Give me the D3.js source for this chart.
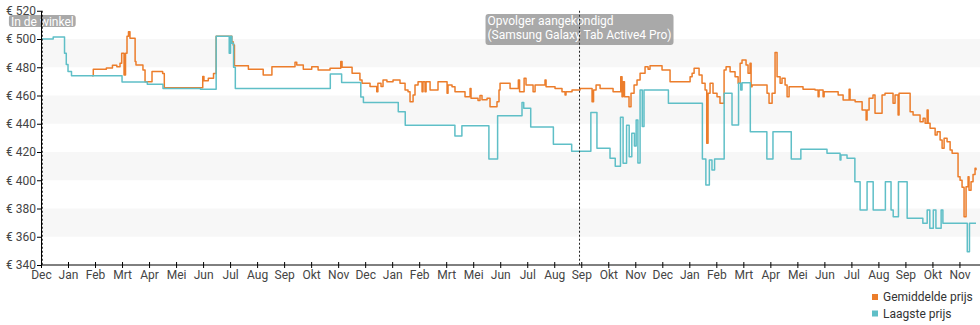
<!DOCTYPE html>
<html><head><meta charset="utf-8">
<script src="https://cdn.jsdelivr.net/npm/d3@7"></script>
<style>
html,body{margin:0;padding:0;background:#fff;}
svg{display:block;font-family:Roboto,"Noto Sans",sans-serif;}
</style></head>
<body><svg id="chart" width="980" height="325"></svg>
<script>
// ---- data ----
const monthLabels = ["Dec","Jan","Feb","Mrt","Apr","Mei","Jun","Jul","Aug","Sep","Okt","Nov",
  "Dec","Jan","Feb","Mrt","Mei","Jun","Jul","Aug","Sep","Okt","Nov",
  "Dec","Jan","Feb","Mrt","Apr","Mei","Jun","Jul","Aug","Sep","Okt","Nov"];
const tickStepDays = 31;
const dayDomain = [0, 1073];
const yTicks = [340,360,380,400,420,440,460,480,500,520];
const seriesNames = ["Gemiddelde prijs","Laagste prijs"];
const seriesColors = ["#ec7d2b","#5fbfc7"];
const markers = [
  {day: 1.5, lines: ["In de winkel"]},
  {day: 618, lines: ["Opvolger aangekondigd","(Samsung Galaxy Tab Active4 Pro)"]}
];
// [day, price]
const lowestPrice = [[0,500],[14,501.5],[27,490],[29,482],[31,477],[35,474],[93,469.5],[122,468],[140,465],[183,464.5],[201,502],[216,490],[217.5,502],[219,497],[221,480],[223,465],[332,475.3],[345,469.2],[367,459],[370,455],[410,448.5],[418,439],[475,431.3],[483,438.6],[514,415],[524,445.7],[552,455],[554,451],[562,437.7],[588,425.4],[609,420.5],[631,448],[638,422.6],[653,415.5],[659,410],[665,444.6],[668,412],[672,439],[675,416.7],[678,433.2],[681,424.2],[683,442.6],[685,412.2],[687.5,463.9],[690,438],[692,463.9],[720,454.5],[759,415],[763,396.6],[767,414.3],[770,407.3],[773,415],[784,461.6],[793,439.1],[800.5,468.6],[803,463.9],[804.5,469.1],[814,434.4],[833,415],[840,434.4],[861,415],[872,421.9],[902,419.1],[917,414.3],[918,417.9],[925,415.5],[934,399],[940,378.9],[948,399],[955,378.9],[969,399],[975.5,378.9],[978,374.2],[984,399],[994,373.1],[1012,369.5],[1017,378.9],[1020,366],[1024,378.9],[1027,366],[1033,378.9],[1035,369.5],[1063,349.4],[1065.5,369.5],[1073,369.5]];
const averagePrice = [[58.5,474],[60,478.5],[75,479.5],[82,481.5],[87,480.4],[90.7,482.8],[92.6,490],[94.5,490],[95.3,474.5],[97,490],[98.7,502],[100.4,505.2],[102.1,500.5],[108,484],[109,481.6],[117,478],[119.4,469.8],[127.4,477],[139.6,475.5],[141.5,465.5],[185.6,473.5],[187,470.5],[192,472.2],[198,475.5],[201,502],[219,498],[220.5,495.8],[222,481],[238,478.5],[255,474.5],[265,480.4],[291.5,483.5],[293.5,481.6],[301,478.5],[310.7,480.4],[318,478],[331.7,479.3],[344,484],[345.5,480],[357,475.7],[366,471],[368.4,468.6],[377.6,466.3],[385.3,462.7],[386.6,468.6],[390.2,466.3],[392.5,471],[397,469.8],[404,471],[412,468.6],[417.8,463.9],[421.2,462.7],[423.5,455.6],[427,460.4],[429.2,467.5],[432.7,469.8],[437.3,462.7],[438.4,469.8],[440.7,462.7],[441.9,469.8],[446.5,463.9],[455.6,469.8],[466,461.6],[467.1,467.4],[471.7,466.2],[475.1,462.7],[486.6,459.2],[492.4,465],[493.5,458],[501.5,456.5],[503.8,460],[506.1,457],[511.9,458],[515.3,452.1],[523.3,455.6],[525.6,463.9],[526.8,468.6],[538.3,465],[547.8,471],[549.2,462.7],[554.4,472.2],[556.6,467.4],[564.7,462.7],[567,467.4],[578.4,471],[579.6,466.2],[589.9,465],[597.9,462.7],[601.4,460.4],[602.5,462.7],[609.4,463.9],[618.6,465],[632.4,455.6],[634.1,463.9],[637,467.4],[641.6,465],[656.5,462.7],[665.3,473.3],[666.8,459.1],[667.9,469.8],[669.6,459.1],[674.8,452.1],[677.1,461.6],[680.6,467.4],[684,471],[687.5,475.7],[693.2,480.4],[696.7,478.5],[698.9,481],[712.7,478],[721.9,469.8],[744.9,473.3],[747.2,475.7],[749.5,479.3],[755.2,474.5],[758.6,468.6],[762.1,463.9],[764,426.2],[765.5,461.6],[767.8,468.6],[771.2,461.6],[775.8,459.1],[779.2,454.5],[783.9,478],[786.2,480.4],[790.8,476.9],[796.5,473.3],[800,468.6],[802.3,482.8],[804.5,485.1],[809.1,481.6],[811.4,475.7],[813.7,482.8],[814.9,466.2],[816,467.4],[830.9,467.4],[833.2,461.6],[835.5,454.5],[839,461.6],[842.4,490.5],[844.7,473.3],[848.2,468.6],[850.4,472.2],[853.9,467.4],[856.2,459.1],[858.5,466.2],[871.1,466.2],[874.5,464.4],[888.3,463.9],[891.8,459.1],[892.9,463.9],[897.5,459.1],[898.7,462.7],[914.8,460.4],[920.5,456.8],[927.4,464.5],[928.5,456.8],[934.3,455.6],[942.3,449.7],[946.9,442.6],[948,449.7],[950.3,458],[954.8,460.4],[957.1,447.4],[965.2,460.4],[968.6,461.6],[977.8,454.5],[980.1,460.4],[983.6,446.2],[984.7,461.6],[993.9,461.6],[997.4,448.5],[1000.8,446.2],[1008.8,441.4],[1012.3,443.9],[1014.6,440.3],[1016.9,449.7],[1018.1,440.3],[1020.3,436.8],[1026.1,432],[1028.4,434.4],[1031.8,428.5],[1034.1,422.6],[1036.4,429.7],[1039.8,427.3],[1043.3,421.4],[1045.6,419.1],[1051.9,419.1],[1052.4,402.5],[1054.7,400],[1057,395],[1059.3,374.2],[1061.6,395.4],[1063.9,402.5],[1065,393],[1067.3,399],[1069.6,404],[1071.9,408.5],[1073,407]];

// ---- chart ----
const svg = d3.select("#chart");
const plotLeft = 41, plotRight = 976, plotTop = 10.75, plotBottom = 265;
const x = d3.scaleLinear().domain(dayDomain).range([plotLeft, plotRight]);
const y = d3.scaleLinear().domain([yTicks[0], yTicks[yTicks.length-1]]).range([plotBottom, plotTop]);

// alternating bands
const bandPairs = d3.pairs(yTicks);
svg.append("g").selectAll("rect").data(bandPairs).join("rect")
  .attr("x", plotLeft).attr("width", 980 - plotLeft)
  .attr("y", d => y(d[1])).attr("height", d => y(d[0]) - y(d[1]))
  .attr("fill", (d, i) => i % 2 === 1 ? "#f7f7f7" : "none");

// lines
const line = d3.line().x(d => x(d[0])).y(d => y(d[1])).curve(d3.curveStepAfter);
[averagePrice, lowestPrice].forEach((s, i) => {
  svg.append("path").datum(s).attr("d", line)
    .attr("fill", "none").attr("stroke", seriesColors[i])
    .attr("stroke-width", 1.5).attr("stroke-linejoin", "round");
});

// markers
markers.forEach(m => {
  const mx = x(m.day);
  const g = svg.append("g");
  const lineH = 14.3;
  const txt = g.append("text").attr("font-size", 12).attr("fill", "#fff");
  m.lines.forEach((l, i) => txt.append("tspan").attr("x", 0).attr("y", i * lineH).text(l));
  const bb = txt.node().getBBox();
  const w = bb.width + 4;
  const bx = mx - w / 2, by = m.lines.length > 1 ? 14 : 15;
  txt.attr("transform", `translate(${bx + 2},${by + 10.5})`);
  g.insert("rect", "text").attr("x", bx).attr("y", by).attr("width", w).attr("height", m.lines.length > 1 ? 31 : 12)
    .attr("rx", 3).attr("fill", "rgba(128,128,128,0.68)");
  svg.append("line").attr("x1", mx).attr("x2", mx).attr("y1", plotTop).attr("y2", plotBottom)
    .attr("stroke", "#222").attr("stroke-width", 1).attr("stroke-dasharray", "2,2");
});

// axes
const xAxis = d3.axisBottom(x)
  .tickValues(monthLabels.map((_, i) => i * tickStepDays))
  .tickFormat((d, i) => monthLabels[i]).tickSizeInner(3).tickSizeOuter(0).tickPadding(2);
const gx = svg.append("g").attr("transform", `translate(0,${plotBottom})`).call(xAxis);
gx.selectAll(".tick line").attr("y1", -3).attr("stroke", "#000");
gx.select(".domain").attr("stroke", "#000").attr("d", `M${plotLeft},0H980`);
gx.selectAll("text").attr("font-size", 12).attr("fill", "#444").attr("font-family", "Roboto");

const yAxis = d3.axisLeft(y).tickValues(yTicks).tickFormat(d => "€ " + d)
  .tickSizeInner(4).tickSizeOuter(0).tickPadding(1);
const gy = svg.append("g").attr("transform", `translate(${plotLeft},0)`).call(yAxis);
gy.selectAll(".tick line").attr("x2", -4).attr("x1", 1).attr("stroke", "#000");
gy.select(".domain").attr("stroke", "#000");
gy.selectAll("text").attr("font-size", 12).attr("fill", "#444").attr("font-family", "Roboto");

// legend
const lg = svg.append("g").attr("transform", "translate(872,294)");
seriesNames.forEach((n, i) => {
  lg.append("rect").attr("x", 0).attr("y", i * 16.5).attr("width", 6).attr("height", 6).attr("fill", seriesColors[i]);
  lg.append("text").attr("x", 11).attr("y", i * 16.5 + 7).attr("font-size", 12).attr("fill", "#333").text(n);
});
</script></body></html>
